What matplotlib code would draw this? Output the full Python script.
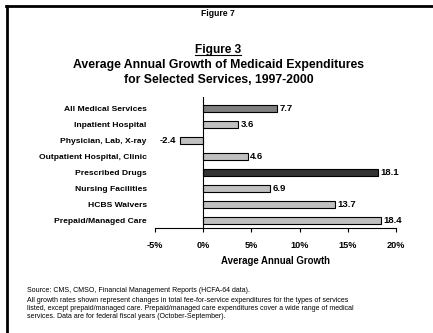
import numpy as np
import matplotlib
matplotlib.use('Agg')
import matplotlib.pyplot as plt
from matplotlib.lines import Line2D

plt.rcParams['font.family'] = ['Liberation Sans', 'DejaVu Sans']

services = ['All Medical Services', 'Inpatient Hospital', 'Physician, Lab, X-ray',
            'Outpatient Hospital, Clinic', 'Prescribed Drugs', 'Nursing Facilities',
            'HCBS Waivers', 'Prepaid/Managed Care']
growth = [7.7, 3.6, -2.4, 4.6, 18.1, 6.9, 13.7, 18.4]
bar_colors = ['#808080', '#c0c0c0', '#c0c0c0', '#c0c0c0', '#333333', '#c0c0c0', '#c0c0c0', '#c0c0c0']
xticks = [-5, 0, 5, 10, 15, 20]
xticklabels = ['-5%', '0%', '5%', '10%', '15%', '20%']

fig = plt.figure(figsize=(4.33, 3.33), dpi=100)
ax = fig.add_axes([155/433, 1 - 228/333, 241/433, 131/333])

ypos = np.arange(len(services))
ax.barh(ypos, growth, height=0.42, color=bar_colors, edgecolor='black', linewidth=0.8)
for y, v in zip(ypos, growth):
    if v >= 0:
        ax.text(v + 0.25, y, '%.1f' % v, va='center', ha='left', fontsize=6.8, fontweight='bold')
    else:
        ax.text(v - 0.4, y, '%.1f' % v, va='center', ha='right', fontsize=6.8, fontweight='bold')

ax.set_xlim(-5, 20)
ax.set_ylim(7.45, -0.7)
ax.axvline(0, color='black', linewidth=0.8)
for s in ['left', 'right', 'top']:
    ax.spines[s].set_visible(False)
ax.spines['bottom'].set_linewidth(0.8)

ax.set_yticks(ypos)
ax.set_yticklabels(services, fontsize=6.1, fontweight='bold')
ax.tick_params(axis='y', length=0, pad=6)
ax.set_xticks(xticks)
ax.set_xticklabels(xticklabels, fontsize=6.6, fontweight='bold')
ax.tick_params(axis='x', length=3, width=0.8, pad=6)
ax.set_xlabel('Average Annual Growth', fontsize=6.9, fontweight='bold', labelpad=5)

# page frame: left and top edges only
fig.add_artist(Line2D([6.5/433, 6.5/433], [0, 1 - 6/333], color='black', linewidth=2))
fig.add_artist(Line2D([5.5/433, 1], [1 - 6/333, 1 - 6/333], color='black', linewidth=2))

fig.text(0.503, 1 - 13.5/333, 'Figure 7', ha='center', va='center', fontsize=6.2, fontweight='bold')
fig3 = fig.text(0.503, 1 - 50/333, 'Figure 3', ha='center', va='center', fontsize=8.6, fontweight='bold')
fig.text(0.505, 1 - 65/333, 'Average Annual Growth of Medicaid Expenditures', ha='center', va='center',
         fontsize=8.8, fontweight='bold')
fig.text(0.505, 1 - 80/333, 'for Selected Services, 1997-2000', ha='center', va='center',
         fontsize=8.8, fontweight='bold')

# underline "Figure 3"
fig.canvas.draw()
bb = fig3.get_window_extent().transformed(fig.transFigure.inverted())
fig.add_artist(Line2D([bb.x0, bb.x1], [bb.y0 + 0.002, bb.y0 + 0.002], color='black', linewidth=0.8))

fig.text(27/433, 1 - 290/333, 'Source: CMS, CMSO, Financial Management Reports (HCFA-64 data).',
         ha='left', va='center', fontsize=5.05)
notes = ['All growth rates shown represent changes in total fee-for-service expenditures for the types of services',
         'listed, except prepaid/managed care. Prepaid/managed care expenditures cover a wide range of medical',
         'services. Data are for federal fiscal years (October-September).']
for i, line in enumerate(notes):
    fig.text(27/433, 1 - (300 + 8.3*i)/333, line, ha='left', va='center', fontsize=5.05)

fig.savefig('out.png', dpi=100)
